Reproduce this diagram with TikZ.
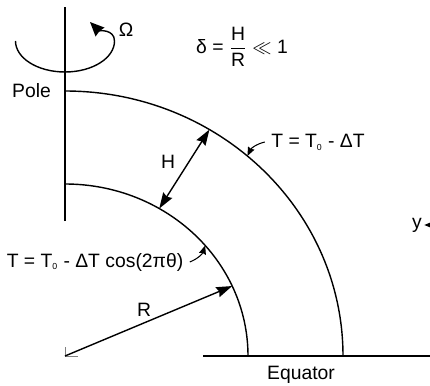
\documentclass[tikz,border=0pt]{standalone}
\usepackage{amsmath, amssymb}
\usepackage{fontspec}
\setmainfont{Liberation Sans}
\usepackage{tikz}
\usetikzlibrary{arrows.meta}

\newcommand{\Tnought}{T\textsubscript{\tiny 0}}

\begin{document}
\begin{tikzpicture}[thick, every node/.style={font=\fontsize{11}{13}\selectfont},
	bigtip/.style={-{Stealth[length=9pt, width=6pt, inset=1pt]}},
	smalltip/.style={-{Stealth[length=5pt, width=4pt, inset=0.5pt]}, line width=0.6pt}]
	
	\useasboundingbox (-1.3,-0.58) rectangle (7.3,7.12);
	
	% --- 转轴与旋转 ---
	\draw (0,2.7) -- (0,6.98);
	\draw[-{Stealth[length=8pt, width=7pt, inset=0.5pt]}] (-0.99,6.3)
		arc[start angle=180, end angle=360, x radius=0.99, y radius=0.62]
		to[out=90, in=-45] (0.5,6.68);
	\node (omega) at (1.22,6.52) {Ω};
	\node (delta) at (3.54,6.18) {δ = $\dfrac{\mbox{H}}{\mbox{R}}$ $\ll$ 1};
	
	% --- 球壳: 外边界与内边界 ---
	\draw (0,5.3) arc[start angle=90, end angle=0, x radius=5.56, y radius=5.3];
	\draw (0,3.44) arc[start angle=90, end angle=0, x radius=3.66, y radius=3.44];
	\draw (2.76,0) -- (7.3,0);
	\draw[thin, gray] (0,0.18) -- (0,0) -- (0.27,0);
	
	% 壳上的点
	\coordinate (O) at (0,0);
	\coordinate (Rtip) at (24:3.66 and 3.44);
	\coordinate (Hin) at (59:3.66 and 3.44);
	\coordinate (Hout) at (58.7:5.56 and 5.3);
	\coordinate (outerpt) at (49:5.56 and 5.3);
	\coordinate (innerpt) at (40:3.66 and 3.44);
	
	% --- 半径 R 与厚度 H ---
	\draw[bigtip] (O) -- (Rtip);
	\node (R) at (1.58,0.92) {R};
	\draw[{Stealth[length=9pt, width=6pt, inset=1pt]}-{Stealth[length=9pt, width=6pt, inset=1pt]}] (Hin) -- (Hout);
	\node (H) at (2.06,3.88) {H};
	
	% --- 边界温度 ---
	\node (Touter) at (5.06,4.28) {T = \Tnought{} - ΔT};
	\draw[smalltip] (Touter.west) to[bend right=25] (outerpt);
	\node (Tinner) at (0.6,1.88) {T = \Tnought{} - ΔT cos(2πθ)};
	\draw[smalltip] (Tinner.east) to[bend right=25] (innerpt);
	
	% --- 标注 ---
	\node (pole) at (-0.67,5.3) {Pole};
	\node (equator) at (4.72,-0.37) {Equator};
	\node[inner sep=1pt] (ylab) at (7.04,2.62) {y};
	\coordinate (yend) at (7.3,2.62);
	\draw[smalltip] (yend) -- (ylab.east);
	
\end{tikzpicture}
\end{document}
